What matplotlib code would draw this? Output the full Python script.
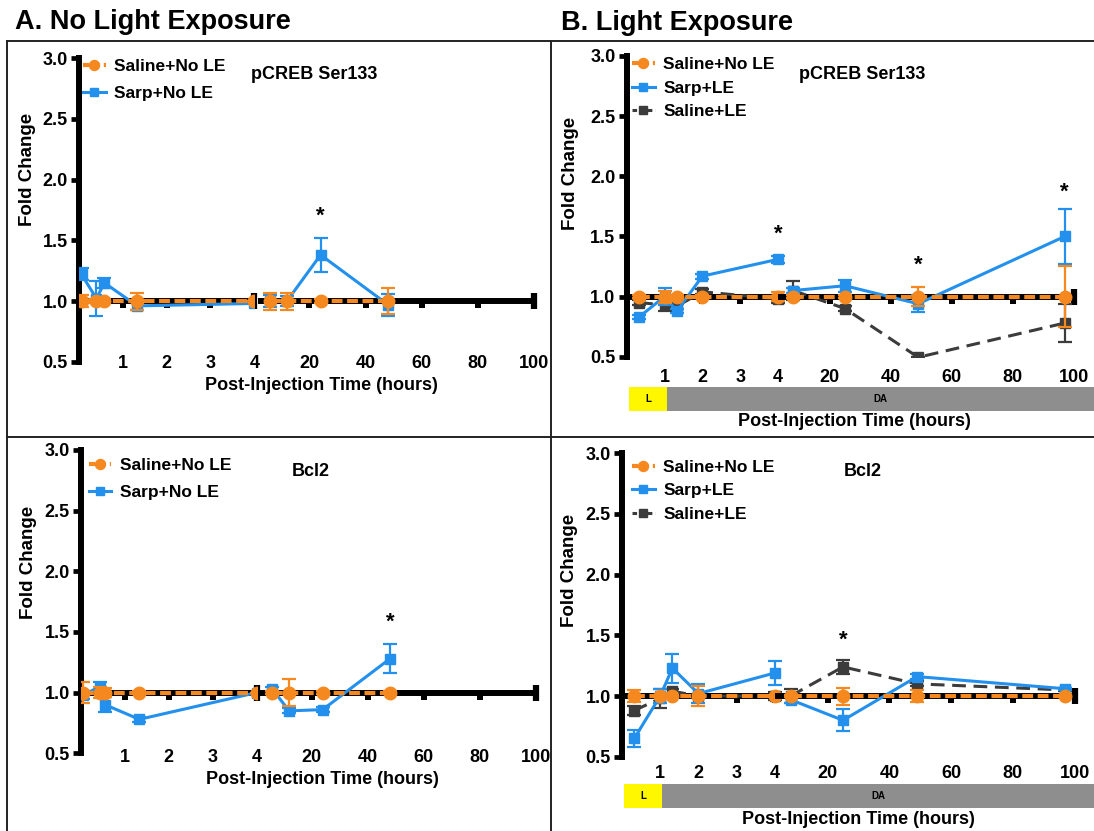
import matplotlib
matplotlib.use("Agg")
import numpy as np
import matplotlib.pyplot as plt
from matplotlib.lines import Line2D

plt.rcParams['font.family'] = ['Liberation Sans', 'DejaVu Sans']
plt.rcParams['font.weight'] = 'bold'

W, H = 1094, 831

ORANGE = '#F5891F'
BLUE = '#2290EC'
DARK = '#3C3C3C'
YELLOW = '#FFF700'
GRAY = '#8E8E8E'

# ---- values ----
y_ticks = [0.5, 1.0, 1.5, 2.0, 2.5, 3.0]
early_ticks = [1, 2, 3, 4]
late_ticks = [20, 40, 60, 80, 100]

# A. No light exposure - pCREB Ser133
hours_a = [0.06, 0.4, 0.58, 1.33, 4, 6, 12, 24, 48]
saline_nole_a = [1.0, 1.0, 1.0, 1.0, 1.0, 1.0, 1.0, 1.0, 1.0]
saline_nole_a_err = [0.05, 0.02, 0.02, 0.07, 0.0, 0.07, 0.07, 0.02, 0.11]
sarp_nole_a = [1.22, 1.02, 1.15, 0.96, 0.98, 1.0, 1.0, 1.38, 0.97]
sarp_nole_a_err = [0.05, 0.145, 0.04, 0.03, 0.0, 0.05, 0.04, 0.14, 0.09]
stars_a = [(24, 1.70)]

# B. Light exposure - pCREB Ser133
hours_b = [0.33, 1.0, 1.33, 2.0, 4.0, 8, 25, 49, 97]
saline_nole_b = [1.0, 1.0, 1.0, 1.0, 1.0, 1.0, 1.0, 1.0, 1.0]
saline_nole_b_err = [0.01, 0.05, 0.01, 0.01, 0.04, 0.01, 0.01, 0.08, 0.25]
sarp_le_b = [0.83, 1.0, 0.88, 1.17, 1.31, 1.05, 1.09, 0.94, 1.50]
sarp_le_b_err = [0.02, 0.07, 0.02, 0.02, 0.03, 0.02, 0.05, 0.07, 0.23]
saline_le_b = [0.95, 0.93, 0.92, 1.04, 0.98, 1.05, 0.90, 0.495, 0.78]
saline_le_b_err = [0.02, 0.05, 0.02, 0.02, 0.03, 0.08, 0.02, 0.0, 0.16]
stars_b = [(4, 1.52), (49, 1.26), (97, 1.87)]

# C. No light exposure - Bcl2
hours_c = [0.05, 0.43, 0.55, 1.33, 4, 6, 12, 24, 48]
saline_nole_c = [1.0, 1.0, 1.0, 1.0, 1.0, 1.0, 1.0, 1.0, 1.0]
saline_nole_c_err = [0.085, 0.045, 0.04, 0.01, 0.0, 0.01, 0.11, 0.01, 0.01]
sarp_nole_c = [0.98, 1.05, 0.90, 0.78, 1.0, 1.03, 0.85, 0.86, 1.28]
sarp_nole_c_err = [0.03, 0.04, 0.06, 0.02, 0.0, 0.02, 0.02, 0.02, 0.12]
stars_c = [(48, 1.58)]

# D. Light exposure - Bcl2
hours_d = [0.32, 1.0, 1.32, 2.0, 4.0, 8, 25, 49, 97]
saline_nole_d = [1.0, 1.0, 1.0, 1.0, 1.0, 1.0, 1.0, 1.0, 1.0]
saline_nole_d_err = [0.05, 0.01, 0.01, 0.08, 0.01, 0.01, 0.07, 0.05, 0.01]
sarp_le_d = [0.65, 1.0, 1.23, 1.02, 1.19, 0.97, 0.80, 1.16, 1.06]
sarp_le_d_err = [0.07, 0.06, 0.12, 0.08, 0.10, 0.03, 0.09, 0.02, 0.01]
saline_le_d = [0.88, 0.98, 1.04, 1.0, 1.0, 1.0, 1.24, 1.10, 1.05]
saline_le_d_err = [0.04, 0.08, 0.02, 0.02, 0.03, 0.06, 0.06, 0.02, 0.01]
stars_d = [(25, 1.46)]

# light phase (L) then dark adaptation (DA), in hours
phases = [('L', 0.06, 1.06, YELLOW), ('DA', 1.06, 110, GRAY)]

STYLES = {
    'Saline+No LE': dict(color=ORANGE, dashes=(2.6, 1.1), lw=3.0, marker='o', ms=9, z=6),
    'Sarp+No LE': dict(color=BLUE, dashes=None, lw=2.2, marker='s', ms=7.5, z=5),
    'Sarp+LE': dict(color=BLUE, dashes=None, lw=2.2, marker='s', ms=7.5, z=5),
    'Saline+LE': dict(color=DARK, dashes=(4.5, 2.5), lw=2.2, marker='s', ms=7.5, z=4),
}

fig = plt.figure(figsize=(W / 100, H / 100), dpi=100)


def px_axes(left, right, top, bottom):
    return fig.add_axes([left / W, 1 - bottom / H, (right - left) / W, (bottom - top) / H])


def draw_series(ax, hours, vals, errs, st, keep, clip=True):
    t = np.asarray(hours)
    v = np.asarray(vals)
    e = np.asarray(errs)
    m = keep(t)
    kw = dict(color=st['color'], lw=st['lw'], marker=st['marker'], ms=st['ms'],
              capsize=4.8, elinewidth=1.6, capthick=1.6, zorder=st['z'])
    if st['dashes']:
        kw['ls'] = '--'
        kw['dashes'] = st['dashes']
    cont = ax.errorbar(t[m], v[m], yerr=e[m], **kw)
    if not clip:
        for art in cont.get_children():
            art.set_clip_on(False)


def panel(geo, hours, series, stars, name, end_cap, phase_bar=None):
    top, bot = geo['top'], geo['bottom']
    ax1 = px_axes(geo['left'], geo['right'], top, bot)
    ax2 = px_axes(geo['s2_left'], geo['s2_right'], top, bot)
    ax1.set_xlim(0, 4)
    ax2.set_xlim(geo['s2_xmin'], 100)
    for ax in (ax1, ax2):
        ax.set_ylim(0.5, 3.0)
        ax.set_facecolor('none')
        for s in ('top', 'right', 'bottom'):
            ax.spines[s].set_visible(False)
    ax2.spines['left'].set_visible(False)
    ax2.tick_params(axis='y', left=False, labelleft=False)
    ax1.spines['left'].set_linewidth(4.3)
    ax1.set_yticks(y_ticks, [f'{v:.1f}' for v in y_ticks])
    ax1.tick_params(axis='y', length=6, width=3.4, pad=2, labelsize=13)

    ax1.set_xticks(early_ticks, [str(v) for v in early_ticks])
    ax2.set_xticks(late_ticks, [str(v) for v in late_ticks])

    # x axis drawn through fold change = 1
    frac = (1.0 - 0.5) / (3.0 - 0.5)
    for ax, ticks in ((ax1, early_ticks), (ax2, late_ticks)):
        ax.tick_params(axis='x', length=0, pad=geo['pad'], labelsize=13)
        sec = ax.secondary_xaxis(frac)
        sec.spines['bottom'].set_linewidth(4.3)
        if ax is ax2 or end_cap:
            sec.set_ticks(ticks[:-1])
            sec.set_ticks(ticks[-1:], minor=True)
        else:
            sec.set_ticks(ticks)
        sec.tick_params(axis='x', which='major', direction='out', length=5,
                        width=4.3, labelbottom=False)
        sec.tick_params(axis='x', which='minor', direction='inout', length=12,
                        width=4.5, labelbottom=False)

    for label, vals, errs in series:
        st = STYLES[label]
        draw_series(ax1, hours, vals, errs, st, lambda t: t <= 4, clip=end_cap)
        draw_series(ax2, hours, vals, errs, st, lambda t: t > 4)

    handles = []
    for label, vals, errs in series:
        st = STYLES[label]
        h = Line2D([], [], color=st['color'], lw=st['lw'], marker=st['marker'], ms=st['ms'])
        if st['dashes']:
            h.set_linestyle('--')
            h.set_dashes((1.5, 1.0))
        handles.append(h)
    lx, ly = geo['legend']
    ax1.legend(handles, [s[0] for s in series], loc='upper left',
               bbox_to_anchor=(lx / W, 1 - ly / H), bbox_transform=fig.transFigure,
               frameon=False, fontsize=12.5, handlelength=1.3, handletextpad=0.5,
               markerscale=0.8, labelspacing=geo['spacing'], borderpad=0,
               borderaxespad=0)

    for x, y in stars:
        ax = ax1 if x <= 4 else ax2
        ax.text(x, y, '*', ha='center', va='center', fontsize=16)

    nx, ny = geo['name']
    fig.text(nx / W, 1 - ny / H, name, ha='center', va='center', fontsize=13)
    yx, yy = geo['ylabel']
    fig.text(yx / W, 1 - yy / H, 'Fold Change', rotation=90, ha='center',
             va='center', fontsize=13.5)
    xx, xy = geo['xlabel']
    fig.text(xx / W, 1 - xy / H, 'Post-Injection Time (hours)', ha='center',
             va='center', fontsize=13)

    if phase_bar:
        b0, b1 = phase_bar
        ymin = (bot - b1) / (bot - top)
        ymax = (bot - b0) / (bot - top)
        per_hr = (geo['right'] - geo['left']) / 4
        for lab, start, end, col in phases:
            for ax, lo, hi in ((ax1, 0, 4.1), (ax2, 4, end)):
                s, e = max(start, lo), min(end, hi)
                if s < e:
                    ax.axvspan(s, e, ymin, ymax, color=col, lw=0, clip_on=False, zorder=1)
            x_start = geo['left'] + start * per_hr
            x_end = geo['left'] + end * per_hr if end <= 4 else W
            fig.text((x_start + x_end) / 2 / W, 1 - (b0 + b1) / 2 / H, lab,
                     ha='center', va='center', fontsize=7)


geo_a = dict(left=78.9, right=254.3, s2_left=261.3, s2_right=533.8, s2_xmin=2.85,
             top=58.3, bottom=361.7, pad=-5, legend=(83, 59), spacing=0.7,
             name=(314.5, 74.3), ylabel=(28, 169), xlabel=(321.7, 385))
geo_b = dict(left=626.6, right=778.2, s2_left=780.9, s2_right=1073.9, s2_xmin=4,
             top=56, bottom=356.7, pad=8.5, legend=(632, 57), spacing=0.48,
             name=(862.3, 74.3), ylabel=(570.8, 173.3), xlabel=(854, 421.7))
geo_c = dict(left=81, right=256.5, s2_left=263.4, s2_right=535.9, s2_xmin=2.85,
             top=450, bottom=753.3, pad=-3.3, legend=(88.5, 457.5), spacing=0.7,
             name=(310.4, 471.7), ylabel=(28.8, 562.5), xlabel=(322.3, 780))
geo_d = dict(left=622, right=774.8, s2_left=778.2, s2_right=1074.6, s2_xmin=4,
             top=453.3, bottom=756.7, pad=6, legend=(632, 459.5), spacing=0.48,
             name=(862.3, 471.7), ylabel=(569.1, 570.8), xlabel=(858.3, 819.3))

panel(geo_a, hours_a,
      [('Saline+No LE', saline_nole_a, saline_nole_a_err),
       ('Sarp+No LE', sarp_nole_a, sarp_nole_a_err)],
      stars_a, 'pCREB Ser133', end_cap=True)
panel(geo_b, hours_b,
      [('Saline+No LE', saline_nole_b, saline_nole_b_err),
       ('Sarp+LE', sarp_le_b, sarp_le_b_err),
       ('Saline+LE', saline_le_b, saline_le_b_err)],
      stars_b, 'pCREB Ser133', end_cap=False, phase_bar=(387.3, 411))
panel(geo_c, hours_c,
      [('Saline+No LE', saline_nole_c, saline_nole_c_err),
       ('Sarp+No LE', sarp_nole_c, sarp_nole_c_err)],
      stars_c, 'Bcl2', end_cap=True)
panel(geo_d, hours_d,
      [('Saline+No LE', saline_nole_d, saline_nole_d_err),
       ('Sarp+LE', sarp_le_d, sarp_le_d_err),
       ('Saline+LE', saline_le_d, saline_le_d_err)],
      stars_d, 'Bcl2', end_cap=False, phase_bar=(784, 807.7))

# panel titles and frame lines
fig.text(15.3 / W, 1 - 21.7 / H, 'A. No Light Exposure', ha='left', va='center', fontsize=19.5)
fig.text(560.6 / W, 1 - 23 / H, 'B. Light Exposure', ha='left', va='center', fontsize=19.5)
frame = [((6.9, 41), (1094, 41)), ((6.9, 41), (6.9, 831)),
         ((550.7, 41), (550.7, 831)), ((6.9, 436.7), (1094, 436.7))]
for (x0, y0), (x1, y1) in frame:
    fig.add_artist(Line2D([x0 / W, x1 / W], [1 - y0 / H, 1 - y1 / H],
                          transform=fig.transFigure, color='#222222', lw=1.4))

fig.savefig('out.png', dpi=100)
